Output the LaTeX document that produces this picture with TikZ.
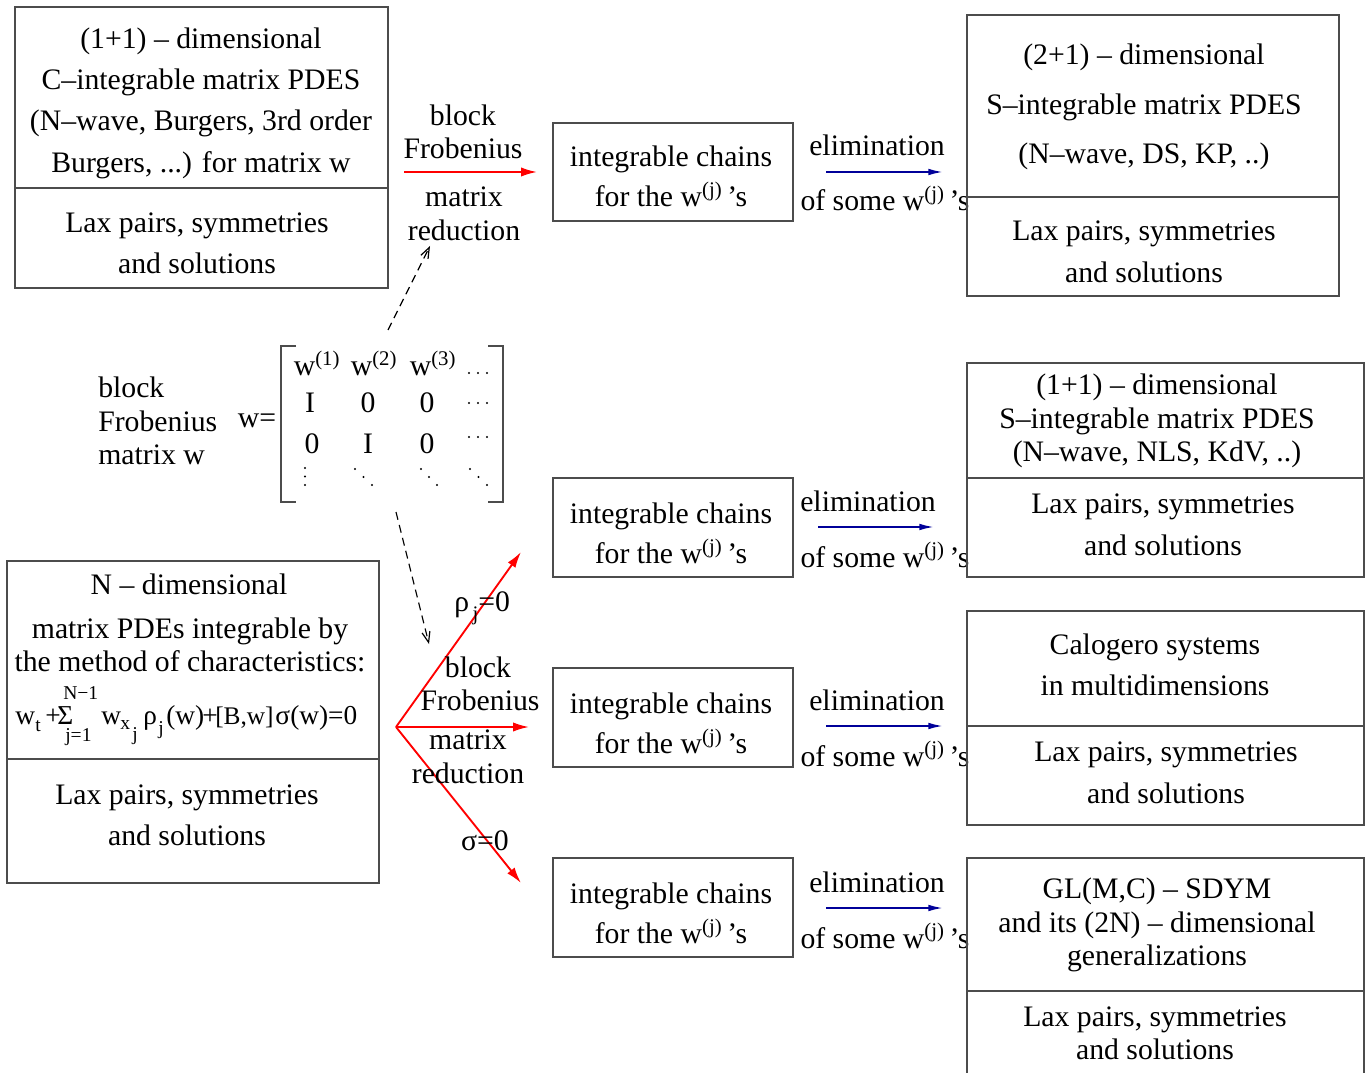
\documentclass[tikz,border=0pt]{standalone}
\usepackage{fontspec}
\setmainfont{Liberation Serif}
\usetikzlibrary{arrows.meta}
\definecolor{arrowblue}{rgb}{0,0,0.6}
\definecolor{boxgrey}{gray}{0.3}
\newcommand\smtxt[1]{{\fontsize{15.5}{16}\selectfont #1}}
\begin{document}
\begin{tikzpicture}[x=0.75pt,y=-0.75pt,
  every node/.style={font=\fontsize{22.3}{31}\selectfont, inner sep=0pt, align=center},
  boxline/.style={draw=boxgrey, line width=1.1pt},
  bracketline/.style={draw=boxgrey, line width=1.4pt},
  redarrow/.style={draw=red, line width=1.4pt, -{Latex[length=12pt,width=7pt]}},
  bluearrow/.style={draw=arrowblue, line width=1.4pt, -{Latex[length=11pt,width=5pt]}},
  dasharrow/.style={draw=black, line width=0.9pt, dash pattern=on 6pt off 4pt, -{Straight Barb[length=8pt,width=6pt]}},
  tight/.style={font=\fontsize{22.3}{25.2}\selectfont},
  mid/.style={font=\fontsize{22.3}{30}\selectfont},
  wide/.style={font=\fontsize{22.3}{37.1}\selectfont},
  lax/.style={font=\fontsize{22.3}{31.5}\selectfont},
  fbig/.style={anchor=base west, font=\fontsize{20.5}{21}\selectfont},
  fbr/.style={anchor=base west, font=\fontsize{19}{20}\selectfont},
  fsmall/.style={anchor=base west, font=\fontsize{14.7}{15}\selectfont},
  dotfill/.style={fill=black, draw=none},
]
\useasboundingbox (0,0) rectangle (1372,1073);

% ---------- top-left box
\draw[boxline] (15,7) rectangle (388,288);
\draw[boxline] (15,188) -- (388,188);
\node (tlA) at (201,103) {(1+1) – dimensional\\C–integrable matrix PDES\\(N–wave, Burgers, 3rd order\\Burgers, ...) for matrix w};
\node (tlB) at (197,243) {Lax pairs, symmetries\\and solutions};

% ---------- top reduction arrow
\node[tight] (blkA) at (463,132) {block\\Frobenius};
\node[tight] (mrA) at (464,214) {matrix\\reduction};
\coordinate (rAs) at (404,172);
\coordinate (rAe) at (537,172);
\draw[redarrow] (rAs) -- (rAe);

% ---------- chains boxes
\draw[boxline] (553,123) rectangle (793,221);
\node[mid] (chA) at (671,176) {integrable chains\\for the w\textsuperscript{(j)}\,’s};
\draw[boxline] (553,478) rectangle (793,577);
\node[mid] (chB) at (671,533) {integrable chains\\for the w\textsuperscript{(j)}\,’s};
\draw[boxline] (553,668) rectangle (793,767);
\node[mid] (chC) at (671,723) {integrable chains\\for the w\textsuperscript{(j)}\,’s};
\draw[boxline] (553,858) rectangle (793,957);
\node[mid] (chD) at (671,913) {integrable chains\\for the w\textsuperscript{(j)}\,’s};

% ---------- elimination labels and arrows
\node[anchor=base] (elA) at (877,156) {elimination};
\node[anchor=base] (osA) at (885,211) {of some w\textsuperscript{(j)}\,’s};
\coordinate (bAs) at (826,172); \coordinate (bAe) at (943,172);
\draw[bluearrow] (bAs) -- (bAe);

\node[anchor=base] (elB) at (868,511) {elimination};
\node[anchor=base] (osB) at (885,567) {of some w\textsuperscript{(j)}\,’s};
\coordinate (bBs) at (818,527); \coordinate (bBe) at (934,527);
\draw[bluearrow] (bBs) -- (bBe);

\node[anchor=base] (elC) at (877,710) {elimination};
\node[anchor=base] (osC) at (885,766) {of some w\textsuperscript{(j)}\,’s};
\coordinate (bCs) at (826,726); \coordinate (bCe) at (943,726);
\draw[bluearrow] (bCs) -- (bCe);

\node[anchor=base] (elD) at (877,892) {elimination};
\node[anchor=base] (osD) at (885,948) {of some w\textsuperscript{(j)}\,’s};
\coordinate (bDs) at (826,908); \coordinate (bDe) at (943,908);
\draw[bluearrow] (bDs) -- (bDe);

% ---------- right boxes
\draw[boxline] (967,15) rectangle (1339,296);
\draw[boxline] (967,197) -- (1339,197);
\node[wide] (trA) at (1144,107) {(2+1) – dimensional\\S–integrable matrix PDES\\(N–wave, DS, KP, ..)};
\node[lax] (trB) at (1144,252) {Lax pairs, symmetries\\and solutions};

\draw[boxline] (967,363) rectangle (1364,577);
\draw[boxline] (967,478) -- (1364,478);
\node[tight] (rbA) at (1157,421) {(1+1) – dimensional\\S–integrable matrix PDES\\(N–wave, NLS, KdV, ..)};
\node[lax] (rbB) at (1163,525) {Lax pairs, symmetries\\and solutions};

\draw[boxline] (967,611) rectangle (1364,825);
\draw[boxline] (967,726) -- (1364,726);
\node (rcA) at (1155,665) {Calogero systems\\in multidimensions};
\node[lax] (rcB) at (1166,773) {Lax pairs, symmetries\\and solutions};

\draw[boxline] (967,858) rectangle (1364,1090);
\draw[boxline] (967,991) -- (1364,991);
\node[tight] (rdA) at (1157,925) {GL(M,C) – SDYM\\and its (2N) – dimensional\\generalizations};
\node[font=\fontsize{22.3}{24.8}\selectfont] (rdB) at (1155,1033) {Lax pairs, symmetries\\and solutions};

% ---------- block Frobenius matrix w
\node[tight, anchor=west, align=left] (bfm) at (98,421) {block\\Frobenius\\matrix w};
\node[anchor=base] (weq) at (257,428) {w=};
\draw[bracketline] (296,346) -- (281,346) -- (281,502) -- (296,502);
\draw[bracketline] (488,346) -- (503,346) -- (503,502) -- (488,502);
\node[anchor=base] (m11) at (317,376) {w\textsuperscript{(1)}};
\node[anchor=base] (m12) at (374,376) {w\textsuperscript{(2)}};
\node[anchor=base] (m13) at (433,376) {w\textsuperscript{(3)}};
\node[anchor=base] (m21) at (310,412) {I};
\node[anchor=base] (m22) at (368,412) {0};
\node[anchor=base] (m23) at (427,412) {0};
\node[anchor=base] (m31) at (312,454) {0};
\node[anchor=base] (m32) at (368,454) {I};
\node[anchor=base] (m33) at (427,454) {0};
\foreach \dx in {469,478,487}{
  \fill[dotfill] (\dx,373) circle (1.1);
  \fill[dotfill] (\dx,403) circle (1.1);
  \fill[dotfill] (\dx,437) circle (1.1);
}
\foreach \k in {0,1,2}{
  \fill[dotfill] (305,468+8.5*\k) circle (1.1);
  \fill[dotfill] (355+8.5*\k,469+8*\k) circle (1.1);
  \fill[dotfill] (421+8*\k,469+8*\k) circle (1.1);
  \fill[dotfill] (470+8.5*\k,469+8*\k) circle (1.1);
}

% ---------- dashed arrows
\coordinate (dAs) at (388,330); \coordinate (dAe) at (430,246);
\draw[dasharrow] (dAs) -- (dAe);
\coordinate (dBs) at (396,512); \coordinate (dBe) at (429,644);
\draw[dasharrow] (dBs) -- (dBe);

% ---------- bottom-left box
\draw[boxline] (7,561) rectangle (379,883);
\draw[boxline] (7,759) -- (379,759);
\node[anchor=base] (blA) at (189,594) {N – dimensional};
\node[tight] (blB) at (190,645) {matrix PDEs integrable by\\the method of characteristics:};
% formula pieces
\node[fbig] (fwA) at (15,724) {w};
\node[fsmall] (ftA) at (35,731) {t};
\node[fbig] (fplA) at (45,724) {+};
\node[fbig] (fsum) at (57,724) {Σ};
\node[fsmall] (fup) at (63,699) {N−1};
\node[fsmall] (flo) at (65,741) {j=1};
\node[fbig] (fwB) at (101,724) {w};
\node[fsmall] (fxA) at (120,729) {x};
\node[fsmall] (fjA) at (132,740) {j};
\node[fbig] (frho) at (143,724) {ρ};
\node[fsmall] (fjB) at (158,734) {j};
\node[fbig] (fwC) at (166,724) {(w)};
\node[fbig] (fplB) at (202,724) {+};
\node[fbr] (fBw) at (215,724) {[B,w]};
\node[fbig] (fsig) at (275,724) {σ};
\node[fbig] (frest) at (290,724) {(w)=0};
\node (blC) at (187,815) {Lax pairs, symmetries\\and solutions};

% ---------- red fan
\coordinate (fan) at (396,727);
\coordinate (fanA) at (521,552);
\coordinate (fanB) at (529,727);
\coordinate (fanC) at (521,883);
\draw[redarrow] (fan) -- (fanA);
\draw[redarrow] (fan) -- (fanB);
\draw[redarrow] (fan) -- (fanC);
\node[anchor=base west] (rho) at (454,611) {ρ\raisebox{-7pt}{\smtxt{\,j}}=0};
\node[anchor=base] (blkB) at (478,677) {block};
\node[anchor=base] (frB) at (480,710) {Frobenius};
\node[anchor=base] (mxB) at (468,749) {matrix};
\node[anchor=base] (rdB2) at (468,783) {reduction};
\node[anchor=base] (sig) at (485,850) {σ=0};
\end{tikzpicture}
\end{document}
